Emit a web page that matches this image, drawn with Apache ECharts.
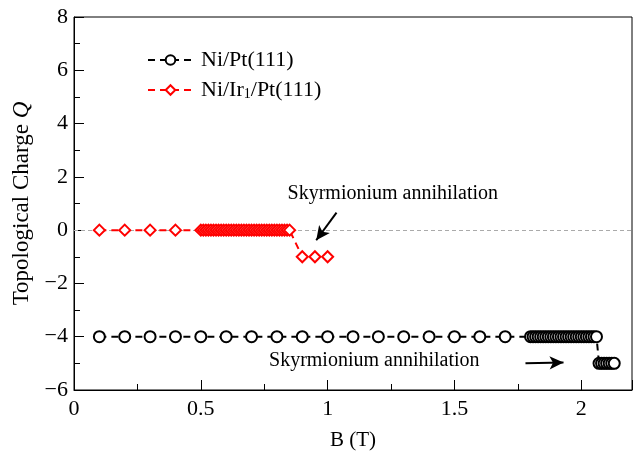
<!DOCTYPE html>
<html>
<head>
<meta charset="utf-8">
<script src="https://cdn.jsdelivr.net/npm/echarts@6/dist/echarts.min.js"></script>
<style>html,body{margin:0;padding:0;background:#fff;}#c{width:636px;height:457px;}</style>
</head>
<body>
<div id="c"></div>
<script>
// Ni/Pt(111)
const niPtB = [0.1,0.2,0.3,0.4,0.5,0.6,0.7,0.8,0.9,1.0,1.1,1.2,1.3,1.4,1.5,1.6,1.7,
  1.80,1.81,1.82,1.83,1.84,1.85,1.86,1.87,1.88,1.89,1.90,1.91,1.92,1.93,1.94,1.95,1.96,1.97,1.98,1.99,2.00,2.01,2.02,2.03,2.04,2.05,2.06,
  2.07,2.08,2.09,2.10,2.11,2.12,2.13];
const niPtQ = [-4,-4,-4,-4,-4,-4,-4,-4,-4,-4,-4,-4,-4,-4,-4,-4,-4,
  -4,-4,-4,-4,-4,-4,-4,-4,-4,-4,-4,-4,-4,-4,-4,-4,-4,-4,-4,-4,-4,-4,-4,-4,-4,-4,-4,
  -5,-5,-5,-5,-5,-5,-5];
// Ni/Ir1/Pt(111)
const niIrB = [0.1,0.2,0.3,0.4,
  0.50,0.51,0.52,0.53,0.54,0.55,0.56,0.57,0.58,0.59,0.60,0.61,0.62,0.63,0.64,0.65,0.66,0.67,0.68,0.69,
  0.70,0.71,0.72,0.73,0.74,0.75,0.76,0.77,0.78,0.79,0.80,0.81,0.82,0.83,0.84,0.85,
  0.90,0.95,1.00];
const niIrQ = [0,0,0,0,
  0,0,0,0,0,0,0,0,0,0,0,0,0,0,0,0,0,0,0,0,
  0,0,0,0,0,0,0,0,0,0,0,0,0,0,0,0,
  -1,-1,-1];
const seriesNames = ['Ni/Pt(111)', 'Ni/Ir1/Pt(111)'];
const annotationText = 'Skyrmionium annihilation';

const FONT = 'Liberation Serif';
const chart = echarts.init(document.getElementById('c'));
const pairs = (xs, ys) => xs.map((x, i) => [x, ys[i]]);
const minus = v => String(v).replace('-', '\u2212');

chart.setOption({
  animation: false,
  grid: {left: 74, right: 4, top: 17, bottom: 67, show: true, borderColor: '#000', borderWidth: 1},
  legend: {
    orient: 'vertical', left: 142, top: 44, itemWidth: 45, itemHeight: 12, itemGap: 8,
    data: seriesNames,
    formatter: n => n === 'Ni/Ir1/Pt(111)' ? 'Ni/Ir{sub|1}/Pt(111)' : n,
    textStyle: {fontFamily: FONT, fontSize: 22, color: '#000', padding: [0, 0, 0, 3],
      rich: {sub: {fontFamily: FONT, fontSize: 14, color: '#000', verticalAlign: 'bottom', padding: [9, 0, 0, 0]}}}
  },
  xAxis: {
    type: 'value', min: 0, max: 2.2, interval: 0.5,
    name: 'B (T)', nameLocation: 'middle', nameGap: 40,
    nameTextStyle: {fontFamily: FONT, fontSize: 21, color: '#000'},
    axisLine: {onZero: false, lineStyle: {color: '#000', width: 1}},
    axisTick: {inside: true, length: 10, lineStyle: {color: '#000'}},
    minorTick: {show: true, splitNumber: 2, length: 6, lineStyle: {color: '#000'}},
    axisLabel: {fontFamily: FONT, fontSize: 22, color: '#000', margin: 8, showMaxLabel: false},
    splitLine: {show: false}
  },
  yAxis: {
    type: 'value', min: -6, max: 8, interval: 2,
    name: 'Topological Charge {i|Q}', nameLocation: 'middle', nameGap: 40,
    nameTextStyle: {fontFamily: FONT, fontSize: 23, color: '#000',
      rich: {i: {fontFamily: FONT, fontSize: 23, fontStyle: 'italic', color: '#000'}}},
    axisLine: {onZero: false, lineStyle: {color: '#000', width: 1}},
    axisTick: {inside: true, length: 10, lineStyle: {color: '#000'}},
    minorTick: {show: true, splitNumber: 2, length: 6, lineStyle: {color: '#000'}},
    axisLabel: {fontFamily: FONT, fontSize: 22, color: '#000', margin: 6, formatter: minus},
    splitLine: {show: false}
  },
  series: [
    {
      name: seriesNames[0], type: 'line', data: pairs(niPtB, niPtQ),
      symbol: 'emptyCircle', symbolSize: 11, z: 3,
      itemStyle: {color: '#000', borderWidth: 2.3},
      lineStyle: {color: '#000', width: 2, type: [7, 5]},
      emphasis: {disabled: true},
      markLine: {
        silent: true, symbol: ['none', 'arrow'], symbolSize: [10, 14],
        label: {show: false},
        lineStyle: {color: '#000', width: 2, type: 'solid'},
        data: [
          [{coord: [1.035, 0.66]}, {coord: [0.955, -0.38]}],
          [{coord: [1.78, -5.0]}, {coord: [1.93, -4.97]}]
        ]
      }
    },
    {
      name: seriesNames[1], type: 'line', data: pairs(niIrB, niIrQ),
      symbol: 'emptyDiamond', symbolSize: 11, z: 4,
      itemStyle: {color: '#ff0000', borderWidth: 2.3},
      lineStyle: {color: '#ff0000', width: 2, type: [7, 5]},
      emphasis: {disabled: true},
      markLine: {
        silent: true, symbol: ['none', 'none'], label: {show: false},
        lineStyle: {color: '#aaaaaa', width: 1, type: [4, 3]},
        z: 1,
        data: [{yAxis: 0}]
      }
    }
  ]
});

function placeText() {
  const p1 = chart.convertToPixel({gridIndex: 0}, [1.257, 1.37]);
  const p2 = chart.convertToPixel({gridIndex: 0}, [1.184, -4.9]);
  chart.setOption({graphic: [
    {type: 'text', x: p1[0], y: p1[1], style: {text: annotationText, fontFamily: FONT, fontSize: 20, fill: '#000', align: 'center', verticalAlign: 'middle'}},
    {type: 'text', x: p2[0], y: p2[1], style: {text: annotationText, fontFamily: FONT, fontSize: 20, fill: '#000', align: 'center', verticalAlign: 'middle'}}
  ]});
}
placeText();
</script>
</body>
</html>
